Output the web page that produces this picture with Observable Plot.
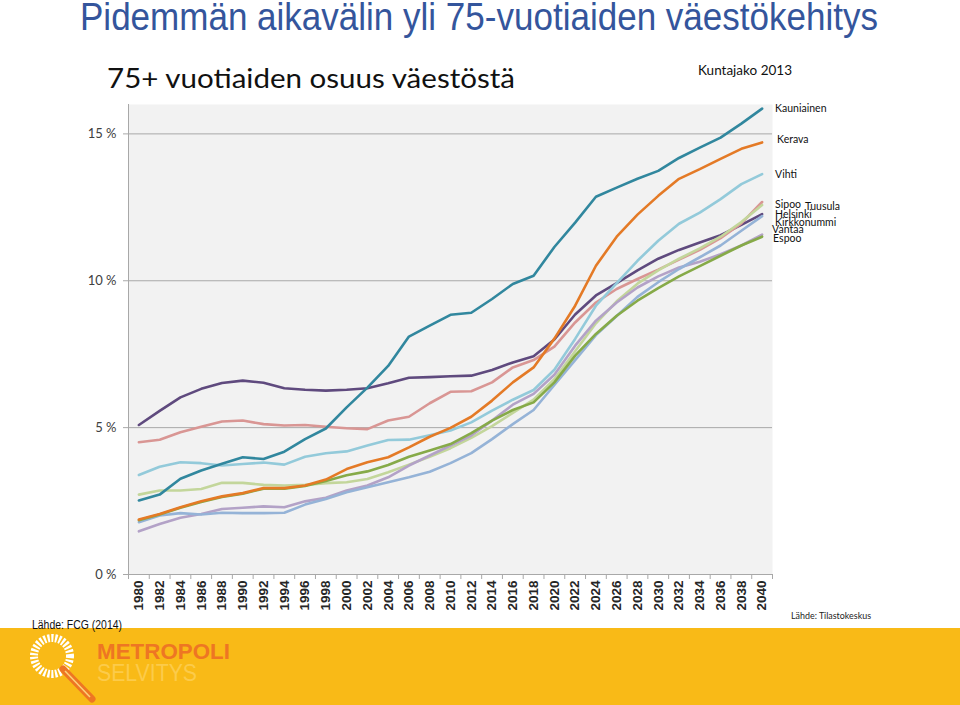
<!DOCTYPE html>
<html><head><meta charset="utf-8">
<script src="https://cdn.jsdelivr.net/npm/d3@7"></script>
<script src="https://cdn.jsdelivr.net/npm/@observablehq/plot@0.6"></script>
<style>
html,body{margin:0;padding:0;background:#fff;}
#page{position:relative;width:960px;height:705px;overflow:hidden;background:#fff;}
#chart{position:absolute;left:0;top:0;}
#deco{position:absolute;left:0;top:0;pointer-events:none;}
</style></head>
<body><div id="page"><div id="chart"></div>
<svg id="deco" width="960" height="705" viewBox="0 0 960 705">
  <text x="80" y="30" font-family="'Liberation Sans Narrow','Arial Narrow','Liberation Sans',Arial,sans-serif" font-size="38" fill="#34559C" textLength="798" lengthAdjust="spacingAndGlyphs">Pidemmän aikavälin yli 75-vuotiaiden väestökehitys</text>
  <text x="107" y="88" font-family="Lato,'Open Sans',sans-serif" font-size="27" fill="#111" textLength="408" lengthAdjust="spacingAndGlyphs">75+ vuotiaiden osuus väestöstä</text>
  <text x="698" y="75" font-family="Lato,'Open Sans',sans-serif" font-size="13" fill="#111" textLength="94" lengthAdjust="spacingAndGlyphs">Kuntajako 2013</text>
  <text x="791" y="619" font-family="Lato,'Open Sans',sans-serif" font-size="10" fill="#222" textLength="80" lengthAdjust="spacingAndGlyphs">Lähde: Tilastokeskus</text>
  <rect x="0" y="628" width="960" height="77" fill="#F9BA17"/>
  <text x="32" y="629" font-family="'Liberation Sans',Arial,sans-serif" font-size="12" fill="#111" textLength="90" lengthAdjust="spacingAndGlyphs">Lähde: FCG (2014)</text>
  <circle cx="52" cy="656" r="18" fill="none" stroke="#fff" stroke-width="8" stroke-dasharray="2.2 1.6"/>
  <line x1="63" y1="669" x2="92" y2="699" stroke="#EE7623" stroke-width="7" stroke-linecap="round"/>
  <line x1="65" y1="671" x2="90" y2="697" stroke="#FBD27A" stroke-width="1.5"/>
  <text x="97" y="659" font-family="'Liberation Sans',Arial,sans-serif" font-weight="bold" font-size="22" fill="#EE7623" textLength="133" lengthAdjust="spacingAndGlyphs">METROPOLI</text>
  <text x="97" y="681" font-family="'Liberation Sans',Arial,sans-serif" font-size="23" fill="#FCCB4A" textLength="100" lengthAdjust="spacingAndGlyphs">SELVITYS</text>
</svg>
</div>
<script>
const years = [1980,1982,1984,1986,1988,1990,1992,1994,1996,1998,2000,2002,2004,2006,2008,2010,2012,2014,2016,2018,2020,2022,2024,2026,2028,2030,2032,2034,2036,2038,2040];
const names = ["Kauniainen","Kerava","Vihti","Sipoo","Tuusula","Helsinki","Kirkkonummi","Vantaa","Espoo"];
const kauniainen = [2.52,2.72,3.26,3.54,3.77,3.99,3.93,4.18,4.61,4.97,5.69,6.36,7.10,8.10,8.47,8.84,8.91,9.38,9.89,10.17,11.15,11.98,12.86,13.17,13.47,13.74,14.18,14.53,14.87,15.35,15.86];
const kerava = [1.87,2.06,2.29,2.49,2.66,2.77,2.94,2.94,3.03,3.23,3.59,3.82,3.99,4.33,4.69,4.99,5.37,5.92,6.54,7.05,8.03,9.15,10.51,11.50,12.25,12.89,13.47,13.80,14.15,14.49,14.71];
const vihti = [3.39,3.67,3.82,3.79,3.71,3.76,3.81,3.74,4.01,4.13,4.19,4.39,4.58,4.59,4.74,4.90,5.18,5.58,5.95,6.28,6.97,8.02,9.15,9.92,10.68,11.36,11.94,12.32,12.78,13.29,13.63];
const sipoo = [4.50,4.59,4.84,5.03,5.21,5.24,5.12,5.07,5.09,5.03,4.98,4.95,5.24,5.37,5.83,6.22,6.24,6.54,7.05,7.30,7.76,8.58,9.26,9.72,10.06,10.38,10.72,11.05,11.45,11.95,12.68];
const tuusula = [2.72,2.86,2.86,2.91,3.12,3.12,3.05,3.03,3.05,3.11,3.14,3.25,3.48,3.74,4.01,4.30,4.65,5.05,5.50,5.95,6.65,7.60,8.55,9.30,9.90,10.35,10.75,11.10,11.50,12.00,12.58];
const helsinki = [5.09,5.57,6.03,6.32,6.52,6.60,6.53,6.34,6.29,6.26,6.29,6.34,6.51,6.70,6.72,6.75,6.77,6.96,7.22,7.43,8.00,8.85,9.50,9.92,10.35,10.75,11.05,11.30,11.55,11.90,12.27];
const kirkkonummi = [1.78,2.01,2.09,2.04,2.10,2.09,2.09,2.10,2.38,2.57,2.80,2.97,3.14,3.31,3.50,3.79,4.13,4.61,5.12,5.60,6.45,7.30,8.15,8.80,9.45,9.95,10.40,10.80,11.20,11.70,12.20];
const vantaa = [1.47,1.72,1.93,2.06,2.23,2.27,2.32,2.29,2.49,2.61,2.86,3.03,3.31,3.71,4.05,4.39,4.73,5.24,5.78,6.15,6.80,7.79,8.64,9.26,9.77,10.15,10.45,10.65,10.90,11.20,11.57];
const espoo = [1.85,2.04,2.27,2.47,2.64,2.75,2.92,2.92,3.01,3.18,3.38,3.51,3.73,4.01,4.22,4.44,4.81,5.24,5.60,5.86,6.54,7.45,8.19,8.81,9.32,9.75,10.15,10.50,10.85,11.20,11.50];
const yTicks = [0,5,10,15];

const series = {Kauniainen: kauniainen, Kerava: kerava, Vihti: vihti, Sipoo: sipoo, Tuusula: tuusula, Helsinki: helsinki, Kirkkonummi: kirkkonummi, Vantaa: vantaa, Espoo: espoo};
const colors = {Kauniainen:"#31879E", Kerava:"#E47A26", Vihti:"#93CADA", Sipoo:"#D99694", Tuusula:"#C3D69B", Helsinki:"#5F4A7E", Kirkkonummi:"#95B3D7", Vantaa:"#B3A2C7", Espoo:"#86AA48"};
const drawOrder = ["Helsinki","Sipoo","Vihti","Tuusula","Vantaa","Kirkkonummi","Espoo","Kerava","Kauniainen"];
const labelOffsets = {Kauniainen:[13,0], Kerava:[15,-3], Vihti:[13,1], Sipoo:[13,3], Tuusula:[43,2], Helsinki:[13,1], Kirkkonummi:[13,6], Vantaa:[10,-5], Espoo:[11,2]};

const table = drawOrder.flatMap(n => years.map((yr, i) => ({name: n, year: yr, value: series[n][i]})));
const boundaries = years.map(y => y - 1).concat([years[years.length - 1] + 1]);

const chart = Plot.plot({
  width: 960, height: 620,
  marginLeft: 128, marginRight: 188, marginTop: 104, marginBottom: 46,
  x: {domain: [boundaries[0], boundaries[boundaries.length - 1]]},
  y: {domain: [0, 16]},
  color: {domain: names, range: names.map(n => colors[n])},
  style: {fontFamily: "Lato, sans-serif", background: "transparent", overflow: "visible"},
  marks: [
    Plot.frame({fill: "#f2f2f2", stroke: "none"}),
    Plot.ruleY(yTicks, {stroke: "#a8a8a8", strokeWidth: 1}),
    Plot.ruleX([boundaries[0]], {stroke: "#a8a8a8"}),
    Plot.axisY(yTicks, {tickSize: 5, tickPadding: 7, tickFormat: d => `${d} %`, fontSize: 13, fill: "#404040", stroke: "#a8a8a8", label: null}),
    Plot.axisX(boundaries, {tickSize: 5, tickFormat: () => "", stroke: "#a8a8a8", label: null}),
    Plot.axisX(years, {tickSize: 0, tickPadding: 6, tickRotate: -90, tickFormat: d => String(d), fontSize: 13.5, fontWeight: "bold", fill: "#262626", label: null, fontFamily: "'Liberation Sans', Arial, sans-serif"}),
    Plot.line(table, {x: "year", y: "value", z: "name", stroke: "name", strokeWidth: 2.6, strokeLinejoin: "round", strokeLinecap: "round"}),
    ...names.map(n => Plot.text([{name: n, year: years[years.length - 1], value: series[n][series[n].length - 1]}], {
      x: "year", y: "value", text: "name", dx: labelOffsets[n][0], dy: labelOffsets[n][1],
      textAnchor: "start", fontSize: 10.5, fill: "#111"
    }))
  ]
});
document.getElementById("chart").appendChild(chart);
</script>
</body></html>
